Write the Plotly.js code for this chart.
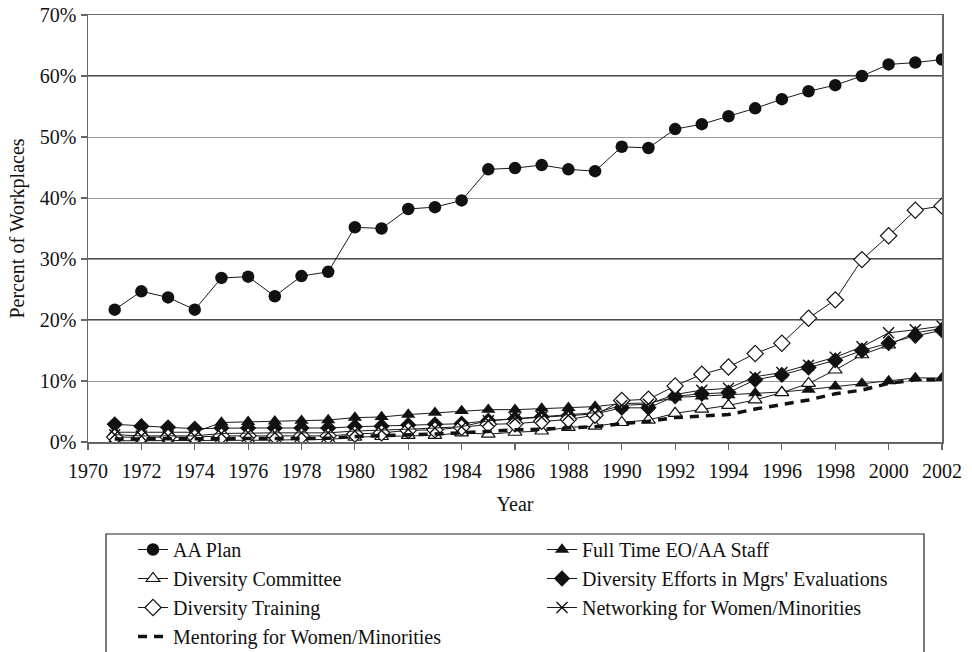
<!DOCTYPE html>
<html>
<head>
<meta charset="utf-8">
<script src="https://cdn.plot.ly/plotly-3.0.1.min.js"></script>
<style>html,body{margin:0;padding:0;background:#fff;}#chart{width:972px;height:652px;}</style>
</head>
<body>
<div id="chart"></div>
<script>
const years = [1971,1972,1973,1974,1975,1976,1977,1978,1979,1980,1981,1982,1983,1984,1985,1986,1987,1988,1989,1990,1991,1992,1993,1994,1995,1996,1997,1998,1999,2000,2001,2002];

const aaPlan = [21.7,24.7,23.7,21.7,26.9,27.1,23.9,27.2,27.9,35.2,35.0,38.2,38.5,39.6,44.7,44.9,45.4,44.7,44.4,48.4,48.2,51.3,52.1,53.4,54.7,56.2,57.5,58.5,60.0,61.9,62.2,62.7];
const fullTimeStaff = [1.6,1.6,1.6,1.6,3.2,3.3,3.4,3.5,3.6,4.0,4.1,4.5,4.8,5.1,5.3,5.3,5.5,5.6,5.8,6.3,6.4,7.3,7.5,7.7,8.0,8.2,8.6,9.1,9.6,10.0,10.5,10.5];
const diversityCommittee = [0.2,0.2,0.2,0.2,0.3,0.3,0.3,0.4,0.4,0.8,0.9,1.1,1.1,1.5,1.3,1.6,1.8,2.4,2.6,3.2,3.6,4.7,5.4,6.0,6.9,8.1,9.6,11.8,14.3,15.9,17.9,18.6];
const mgrsEvaluations = [2.9,2.6,2.4,2.2,2.3,2.3,2.3,2.3,2.3,2.5,2.6,2.8,2.9,3.0,3.5,3.8,4.1,4.3,4.6,5.6,5.6,7.5,7.9,8.1,10.2,11.0,12.2,13.4,15.0,16.2,17.4,18.3];
const diversityTraining = [0.8,0.8,0.8,0.8,1.0,1.0,1.0,1.0,1.0,1.3,1.5,1.9,2.0,2.4,2.9,3.0,3.4,3.7,4.4,6.8,7.0,9.2,11.1,12.3,14.5,16.2,20.3,23.3,29.9,33.8,38.0,38.7];
const networking = [1.2,1.0,1.0,1.0,1.4,1.5,1.5,1.5,1.5,1.8,1.9,2.1,2.3,2.5,3.5,3.8,4.1,4.4,4.8,6.0,6.2,7.8,8.5,8.8,10.7,11.4,12.6,13.9,15.6,17.9,18.4,19.0];
const mentoring = [0.5,0.5,0.5,0.5,0.6,0.6,0.6,0.6,0.6,0.9,1.0,1.2,1.3,1.5,1.8,2.0,2.1,2.3,2.5,3.0,3.4,4.0,4.3,4.5,5.4,6.2,6.9,7.9,8.5,9.6,10.2,10.2];

const seriesNames = ["AA Plan","Full Time EO/AA Staff","Diversity Committee","Diversity Efforts in Mgrs' Evaluations","Diversity Training","Networking for Women/Minorities","Mentoring for Women/Minorities"];
const yTickVals = [0,10,20,30,40,50,60,70];
const xTickVals = [1970,1972,1974,1976,1978,1980,1982,1984,1986,1988,1990,1992,1994,1996,1998,2000,2002];
const darkGridVals = [20,30,60];

const FONT = "Liberation Serif, Times New Roman, serif";

function lineTrace(name, y, marker, line) {
  const t = {
    type: 'scatter', mode: marker ? 'lines+markers' : 'lines',
    x: years, y: y, name: name,
    line: Object.assign({color: '#1a1a1a', width: 1}, line || {}),
    showlegend: true
  };
  if (marker) t.marker = marker;
  return t;
}

const traces = [
  lineTrace(seriesNames[0], aaPlan, {symbol: 'circle', size: 12.5, color: '#111', line: {width: 0}}),
  lineTrace(seriesNames[1], fullTimeStaff, {symbol: 'triangle-up', size: 12.5, color: '#111', line: {width: 0}}),
  lineTrace(seriesNames[2], diversityCommittee, {symbol: 'triangle-up', size: 12, color: '#fff', line: {width: 1.2, color: '#111'}}),
  lineTrace(seriesNames[3], mgrsEvaluations, {symbol: 'diamond', size: 12.5, color: '#111', line: {width: 0}}),
  lineTrace(seriesNames[4], diversityTraining, {symbol: 'diamond', size: 12.5, color: '#fff', line: {width: 1.2, color: '#111'}}),
  lineTrace(seriesNames[5], networking, {symbol: 'x-thin', size: 11, color: '#111', line: {width: 1.4, color: '#111'}}),
  lineTrace(seriesNames[6], mentoring, null, {width: 3.5, dash: '9px,7px', color: '#111'})
];

const gridShapes = darkGridVals.map(v => ({
  type: 'line', xref: 'paper', x0: 0, x1: 1, yref: 'y', y0: v, y1: v,
  line: {color: '#111', width: 1.3}, layer: 'below'
}));

const legendBox = {
  type: 'rect', xref: 'paper', yref: 'paper',
  x0: (106 - 88) / 854, x1: (924 - 88) / 854,
  y0: (442 - 534) / 427, y1: (442 - 700) / 427,
  line: {color: '#222', width: 1.2}, fillcolor: 'rgba(0,0,0,0)', layer: 'above'
};

const layout = {
  width: 972, height: 652,
  margin: {l: 88, r: 30, t: 15, b: 210, autoexpand: false},
  paper_bgcolor: '#fff', plot_bgcolor: '#fff',
  font: {family: FONT, size: 20, color: '#111'},
  showlegend: true,
  xaxis: {
    range: [1970, 2002], tickvals: xTickVals, ticktext: xTickVals.map(String),
    showgrid: false, zeroline: false,
    showline: true, linecolor: '#666', linewidth: 1.5, mirror: true,
    ticks: 'outside', ticklen: 6, tickcolor: '#666', tickwidth: 1.2,
    ticklabelstandoff: 4,
    tickfont: {family: FONT, size: 20, color: '#111'},
    title: {text: 'Year', font: {family: FONT, size: 20, color: '#111'}, standoff: 16}
  },
  yaxis: {
    range: [0, 70], tickvals: yTickVals, ticktext: yTickVals.map(v => v + '%'),
    showgrid: true, gridcolor: '#999', gridwidth: 1, zeroline: false,
    showline: true, linecolor: '#666', linewidth: 1.5, mirror: true,
    ticks: 'outside', ticklen: 6, tickcolor: '#666', tickwidth: 1.2,
    tickfont: {family: FONT, size: 20, color: '#111'},
    title: {text: 'Percent of Workplaces', font: {family: FONT, size: 20, color: '#111'}, standoff: 10}
  },
  legend: {
    orientation: 'h', x: (133 - 88) / 854, xanchor: 'left',
    y: (442 - 530) / 427, yanchor: 'top',
    entrywidth: 364, entrywidthmode: 'pixels',
    bgcolor: 'rgba(0,0,0,0)', borderwidth: 0,
    font: {family: FONT, size: 20, color: '#111'},
    traceorder: 'normal'
  },
  shapes: gridShapes.concat([legendBox])
};

Plotly.newPlot('chart', traces, layout, {displayModeBar: false, staticPlot: true});
</script>
</body>
</html>
